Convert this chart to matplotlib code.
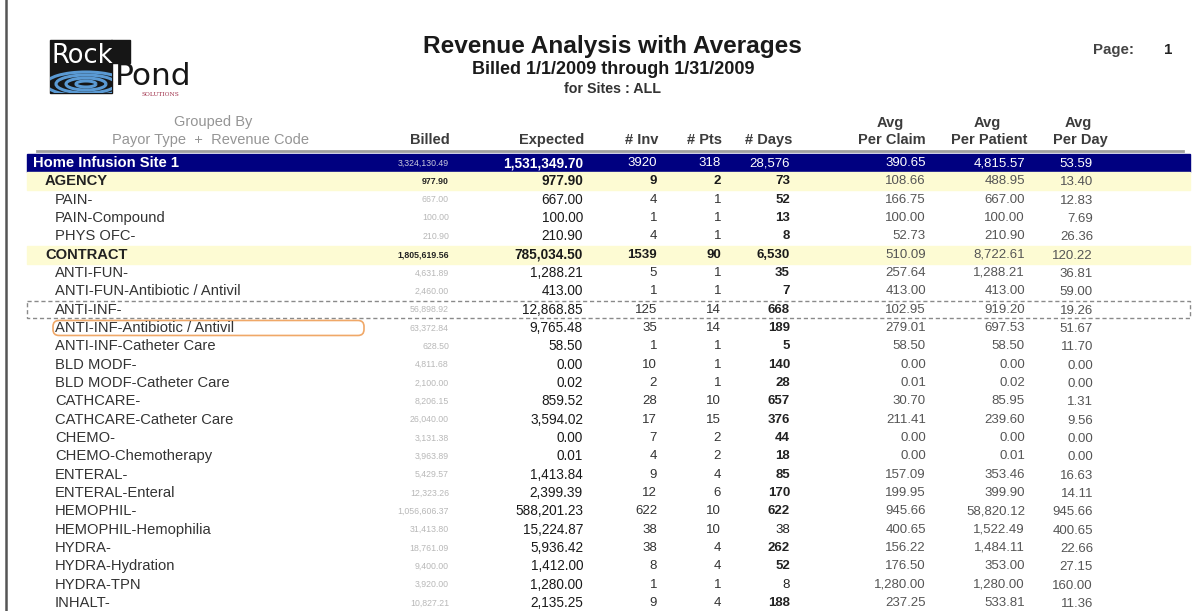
# Revenue Analysis with Averages - report page redrawn with matplotlib
import matplotlib.pyplot as plt
from matplotlib.patches import Rectangle, FancyBboxPatch, Arc

plt.rcParams['font.family'] = ['Liberation Sans', 'DejaVu Sans']

# Report rows (0 = site total, 1 = payor type, 2 = revenue code)
labels = ["Home Infusion Site 1", "AGENCY", "PAIN-", "PAIN-Compound", "PHYS OFC-",
          "CONTRACT", "ANTI-FUN-", "ANTI-FUN-Antibiotic / Antivil", "ANTI-INF-",
          "ANTI-INF-Antibiotic / Antivil", "ANTI-INF-Catheter Care", "BLD MODF-",
          "BLD MODF-Catheter Care", "CATHCARE-", "CATHCARE-Catheter Care", "CHEMO-",
          "CHEMO-Chemotherapy", "ENTERAL-", "ENTERAL-Enteral", "HEMOPHIL-",
          "HEMOPHIL-Hemophilia", "HYDRA-", "HYDRA-Hydration", "HYDRA-TPN", "INHALT-"]
levels = [0, 1, 2, 2, 2, 1, 2, 2, 2, 2, 2, 2, 2, 2, 2, 2, 2, 2, 2, 2, 2, 2, 2, 2, 2]
billed = [3324130.49, 977.90, 667.00, 100.00, 210.90, 1805619.56, 4631.89, 2460.00,
          56898.92, 63372.84, 628.50, 4811.68, 2100.00, 8206.15, 26040.00, 3131.38,
          3963.89, 5429.57, 12323.26, 1056606.37, 31413.80, 18761.09, 9400.00,
          3920.00, 10827.21]
expected = [1531349.70, 977.90, 667.00, 100.00, 210.90, 785034.50, 1288.21, 413.00,
            12868.85, 9765.48, 58.50, 0.00, 0.02, 859.52, 3594.02, 0.00, 0.01,
            1413.84, 2399.39, 588201.23, 15224.87, 5936.42, 1412.00, 1280.00, 2135.25]
n_inv = [3920, 9, 4, 1, 4, 1539, 5, 1, 125, 35, 1, 10, 2, 28, 17, 7, 4, 9, 12, 622,
         38, 38, 8, 1, 9]
n_pts = [318, 2, 1, 1, 1, 90, 1, 1, 14, 14, 1, 1, 1, 10, 15, 2, 2, 4, 6, 10, 10, 4,
         4, 1, 4]
n_days = [28576, 73, 52, 13, 8, 6530, 35, 7, 668, 189, 5, 140, 28, 657, 376, 44, 18,
          85, 170, 622, 38, 262, 52, 8, 188]
days_bold = [0, 1, 1, 1, 1, 1, 1, 1, 1, 1, 1, 1, 1, 1, 1, 1, 1, 1, 1, 1, 0, 1, 1, 0, 1]
per_claim = [390.65, 108.66, 166.75, 100.00, 52.73, 510.09, 257.64, 413.00, 102.95,
             279.01, 58.50, 0.00, 0.01, 30.70, 211.41, 0.00, 0.00, 157.09, 199.95,
             945.66, 400.65, 156.22, 176.50, 1280.00, 237.25]
per_patient = [4815.57, 488.95, 667.00, 100.00, 210.90, 8722.61, 1288.21, 413.00,
               919.20, 697.53, 58.50, 0.00, 0.02, 85.95, 239.60, 0.00, 0.01, 353.46,
               399.90, 58820.12, 1522.49, 1484.11, 353.00, 1280.00, 533.81]
per_day = [53.59, 13.40, 12.83, 7.69, 26.36, 120.22, 36.81, 59.00, 19.26, 51.67,
           11.70, 0.00, 0.00, 1.31, 9.56, 0.00, 0.00, 16.63, 14.11, 945.66, 400.65,
           22.66, 27.15, 160.00, 11.36]

fig = plt.figure(figsize=(11.92, 6.11), dpi=100)
ax = fig.add_axes([0, 0, 1, 1])
ax.set_xlim(0, 1192)
ax.set_ylim(611, 0)
ax.axis('off')

# page edge on the left
ax.plot([6, 6], [0, 611], color='#555555', lw=1.8)

# logo: black block with a notch where the "P" sits
box = Rectangle((50, 40), 62, 53, color='#161616')
ax.add_patch(box)
ax.add_patch(Rectangle((111, 40), 19, 23, color='#161616'))
for r in [10, 20, 30, 40]:
    a = Arc((86, 84), r * 2.0, r * 0.6, color='#5a9ad4', lw=2.2)
    ax.add_patch(a)
    a.set_clip_path(box)
ax.text(51, 63, "Rock", color='white', fontsize=18.5, va='baseline', ha='left',
        family='DejaVu Sans')
ax.text(115, 85, "Pond", color='#161616', fontsize=22.5, va='baseline', ha='left',
        family='DejaVu Sans')
ax.text(160, 94.5, "SOLUTIONS", color='#a0304a', fontsize=4.2, va='center',
        ha='center', family='DejaVu Serif')

# titles
ax.text(612, 46, "Revenue Analysis with Averages", fontsize=17.6, fontweight='bold',
        ha='center', va='center', color='#1a1a1a')
ax.text(613, 70, "Billed 1/1/2009 through 1/31/2009", fontsize=13, fontweight='bold',
        ha='center', va='center', color='#1a1a1a')
ax.text(612, 89, "for Sites : ALL", fontsize=10.3, fontweight='bold',
        ha='center', va='center', color='#333333')
ax.text(1093, 50, "Page:", fontsize=10.8, fontweight='bold', ha='left', va='center',
        color='#444444')
ax.text(1172, 50, "1", fontsize=10.8, fontweight='bold', ha='right', va='center',
        color='#222222')

# column headers
hdr = dict(fontsize=10.5, fontweight='bold', va='center', color='#3c3c3c')
ax.text(213, 122, "Grouped By", fontsize=10.5, ha='center', va='center', color='#959595')
ax.text(211, 140, "Payor Type  +  Revenue Code", fontsize=10.5, ha='center', va='center',
        color='#959595')
ax.text(450, 140, "Billed", ha='right', **hdr)
ax.text(584, 140, "Expected", ha='right', **hdr)
ax.text(658, 140, "# Inv", ha='right', **hdr)
ax.text(722, 140, "# Pts", ha='right', **hdr)
ax.text(745, 140, "# Days", ha='left', **hdr)
for xc, name in [(892, "Per Claim"), (989, "Per Patient"), (1080, "Per Day")]:
    ax.text(xc - 2, 123, "Avg", ha='center', **hdr)
    ax.text(xc, 140, name, ha='center', **hdr)
ax.plot([37, 1183], [150.5, 150.5], color='#a0a0a0', lw=2)

# rows
row0, step = 163, 18.33
for i, lab in enumerate(labels):
    y = row0 + i * step
    lev = levels[i]
    if lev == 0:
        ax.add_patch(Rectangle((27, y - 9), 1163, 18, color='#000080', zorder=0))
        lab_c, num_c, avg_c, bill_c = 'white', 'white', 'white', '#c8c8dc'
        w_exp, w_cnt, w_bill = 'bold', 'normal', 'normal'
        lx = 33
    elif lev == 1:
        ax.add_patch(Rectangle((27, y - 9), 1163, 18, color='#fdfbd3', zorder=0))
        lab_c, num_c, avg_c, bill_c = '#222222', '#1a1a1a', '#555555', '#222222'
        w_exp, w_cnt, w_bill = 'bold', 'bold', 'bold'
        lx = 45
    else:
        lab_c, num_c, avg_c, bill_c = '#333333', '#1a1a1a', '#555555', '#b8b8b8'
        w_exp, w_cnt, w_bill = 'normal', 'normal', 'normal'
        lx = 55
    ax.text(lx, y, lab, fontsize=10.6, fontweight='bold' if lev < 2 else 'normal',
            color=lab_c, ha='left', va='center')
    ax.text(449, y, f"{billed[i]:,.2f}", fontsize=6.3, fontweight=w_bill,
            color=bill_c, ha='right', va='center')
    ax.text(583, y, f"{expected[i]:,.2f}", fontsize=9.8, fontweight=w_exp,
            color=num_c, ha='right', va='center')
    ax.text(657, y, f"{n_inv[i]}", fontsize=9.5, fontweight=w_cnt,
            color=num_c if lev < 2 else '#333333', ha='right', va='center')
    ax.text(721, y, f"{n_pts[i]}", fontsize=9.5, fontweight=w_cnt,
            color=num_c if lev < 2 else '#333333', ha='right', va='center')
    ax.text(790, y, f"{n_days[i]:,}", fontsize=9.5,
            fontweight='bold' if days_bold[i] else 'normal',
            color=num_c if lev < 2 else '#222222', ha='right', va='center')
    ax.text(926, y, f"{per_claim[i]:,.2f}", fontsize=9.5,
            color=avg_c, ha='right', va='center')
    ax.text(1025, y, f"{per_patient[i]:,.2f}", fontsize=9.5,
            color=avg_c, ha='right', va='center')
    ax.text(1093, y + 1, f"{per_day[i]:,.2f}", fontsize=9.5,
            color=avg_c, ha='right', va='center')

# selection marks on the report
sel = labels.index("ANTI-INF-")
ys = row0 + sel * step
ax.add_patch(Rectangle((27, ys - 8.5), 1163, 17, fill=False, ec='#8a8a8a', lw=1,
                       ls=(0, (3, 2))))
ys2 = ys + step
ax.add_patch(FancyBboxPatch((53, ys2 - 7.5), 311, 15,
                            boxstyle='round,pad=0,rounding_size=6',
                            fill=False, ec='#f0a868', lw=1.2))

fig.savefig("out.png", dpi=100)
